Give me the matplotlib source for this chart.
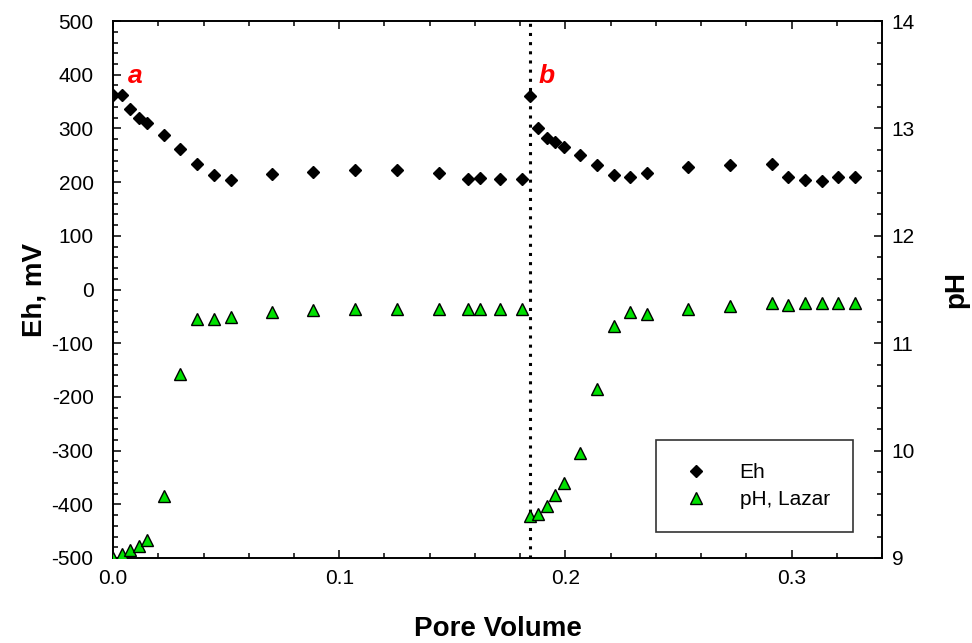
import matplotlib
matplotlib.use("Agg")
import matplotlib.pyplot as plt
from matplotlib.ticker import MultipleLocator, FormatStrFormatter

plt.rcParams['font.family'] = ['Liberation Sans', 'DejaVu Sans']
plt.rcParams['axes.unicode_minus'] = False

# Eh readings (mV) against pore volume
eh_pv = [0.0, 0.004, 0.0075, 0.0115, 0.015, 0.0225, 0.0298, 0.0372, 0.0445, 0.052,
         0.0703, 0.0885, 0.107, 0.1254, 0.144, 0.1568, 0.1624, 0.171, 0.1808,
         0.1844, 0.1881, 0.1918, 0.1955, 0.1993, 0.2065, 0.2138, 0.2213, 0.2286, 0.236,
         0.2542, 0.2727, 0.2912, 0.2985, 0.306, 0.3134, 0.3207, 0.328]
eh = [362, 362, 336, 320, 311, 288, 261, 233, 214, 204,
      216, 219, 222, 223, 217, 205, 207, 205, 205,
      360, 301, 282, 274, 266, 251, 232, 213, 209, 217,
      228, 231, 234, 210, 204, 203, 209, 209]

# pH readings (Lazar probe)
ph_pv = [0.0, 0.004, 0.0076, 0.0115, 0.0151, 0.0225, 0.0298, 0.0372, 0.0445, 0.052,
         0.0703, 0.0885, 0.107, 0.1254, 0.144, 0.1568, 0.1624, 0.171, 0.1808,
         0.1844, 0.1881, 0.1918, 0.1955, 0.1993, 0.2065, 0.2138, 0.2213, 0.2286, 0.236,
         0.2542, 0.2727, 0.2912, 0.2985, 0.306, 0.3134, 0.3207, 0.328]
ph = [9.00, 9.04, 9.07, 9.11, 9.17, 9.58, 10.71, 11.23, 11.23, 11.24,
      11.29, 11.31, 11.32, 11.32, 11.32, 11.32, 11.32, 11.32, 11.32,
      9.39, 9.41, 9.48, 9.59, 9.70, 9.98, 10.57, 11.16, 11.29, 11.27,
      11.32, 11.35, 11.37, 11.36, 11.37, 11.37, 11.37, 11.37]

switch_pv = 0.1844
annotations = [("a", 0.0097, 397), ("b", 0.1916, 397)]

fig = plt.figure(figsize=(9.72, 6.43), dpi=100)
ax = fig.add_axes([0.1163, 0.1322, 0.7911, 0.8351])
ax2 = ax.twinx()

l1, = ax.plot(eh_pv, eh, linestyle='none', marker='D', ms=6.3, color='black', label='Eh', zorder=3)
l2, = ax2.plot(ph_pv, ph, linestyle='none', marker='^', ms=8.5, mfc='#00e000', mec='black',
               mew=1.0, label='pH, Lazar', zorder=3)
ax.axvline(switch_pv, color='black', linestyle=(0, (1, 2.0)), lw=2.2)

for txt, x, y in annotations:
    ax.text(x, y, txt, color='red', fontsize=19, fontweight='bold', fontstyle='italic',
            ha='center', va='center')

ax.set_xlim(0, 0.34)
ax.set_ylim(-500, 500)
ax2.set_ylim(9, 14)

ax.xaxis.set_major_locator(MultipleLocator(0.1))
ax.xaxis.set_minor_locator(MultipleLocator(0.02))
ax.xaxis.set_major_formatter(FormatStrFormatter('%.1f'))
ax.yaxis.set_major_locator(MultipleLocator(100))
ax.yaxis.set_minor_locator(MultipleLocator(20))
ax2.yaxis.set_major_locator(MultipleLocator(1))
ax2.yaxis.set_minor_locator(MultipleLocator(0.2))

for a in (ax, ax2):
    a.tick_params(which='both', direction='in', labelsize=15, width=1.1)
    a.tick_params(which='major', length=6)
    a.tick_params(which='minor', length=3.5)
    for s in a.spines.values():
        s.set_linewidth(1.2)
ax.tick_params(axis='x', which='both', top=True, pad=8)
ax.tick_params(axis='y', pad=14)
ax2.tick_params(axis='y', pad=7)

ax.set_xlabel('Pore Volume', fontsize=20, fontweight='bold', labelpad=20)
ax.set_ylabel('Eh, mV', fontsize=20, fontweight='bold', labelpad=3)
ax2.set_ylabel('pH', fontsize=20, fontweight='bold', rotation=90, labelpad=20)

leg = ax2.legend(handles=[l1, l2], loc='lower right', bbox_to_anchor=(0.962, 0.048),
                 borderaxespad=0, fontsize=15, frameon=True, fancybox=False,
                 edgecolor='black', borderpad=1.1, handlelength=1.6, handletextpad=1.3,
                 labelspacing=0.4)
leg.get_frame().set_linewidth(1.2)

fig.savefig('out.png', dpi=100)
